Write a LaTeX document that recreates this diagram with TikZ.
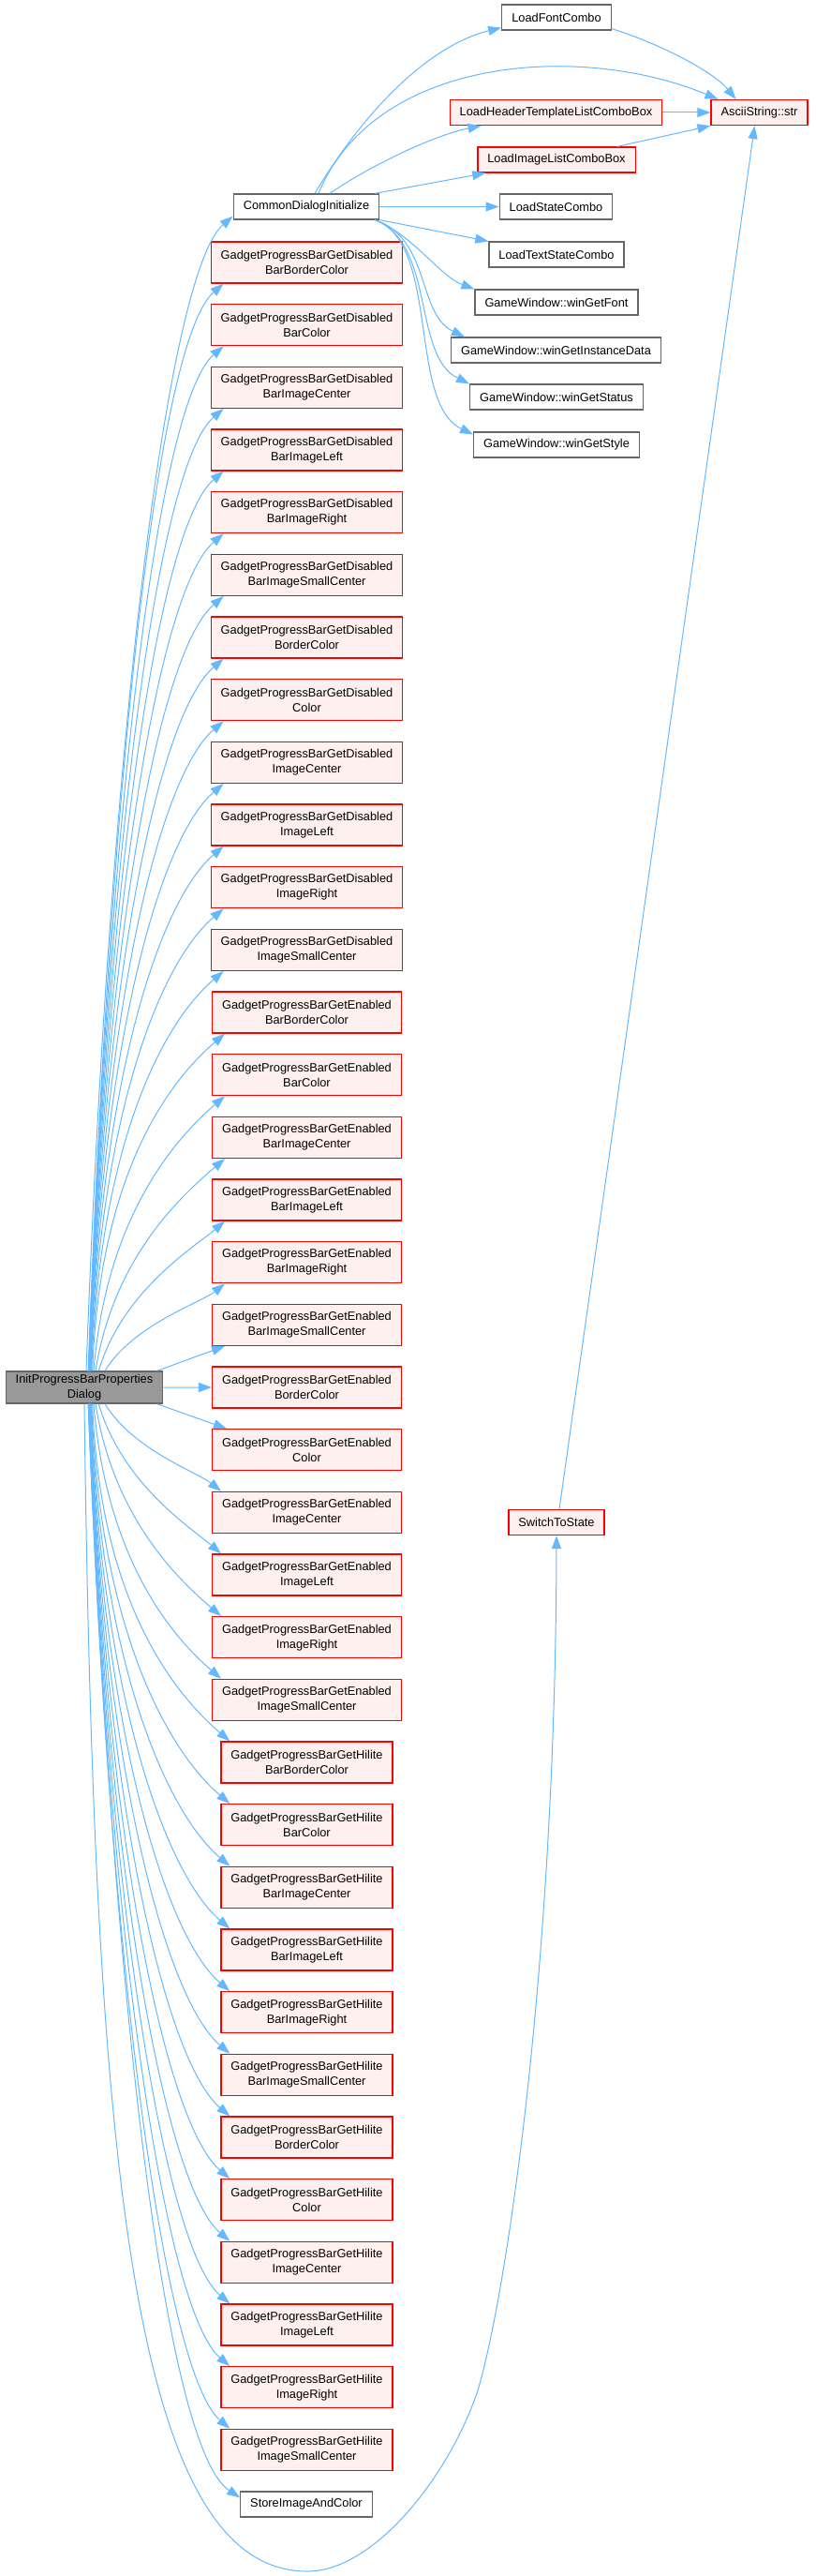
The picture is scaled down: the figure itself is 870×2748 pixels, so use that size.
\documentclass[tikz,border=0pt]{standalone}
\usepackage{fontspec}
\setmainfont{Liberation Sans}
\usetikzlibrary{arrows.meta}
\definecolor{edgeblue}{HTML}{63B8FF}
\definecolor{boxgrey}{HTML}{666666}
\definecolor{rootgrey}{HTML}{999999}
\definecolor{redfill}{HTML}{FFF0F0}
\begin{document}
\begin{tikzpicture}[x=1pt,y=-1pt,
  every node/.style={font=\fontsize{12.8}{16}\selectfont,align=center,inner xsep=10.5pt,inner ysep=3pt},
  box/.style={draw=boxgrey,line width=1.3pt,fill=white,minimum height=27pt},
  redbox/.style={draw=red,line width=1.3pt,fill=redfill,minimum height=27pt},
  pair/.style={redbox,minimum height=44pt},
  call/.style={draw=edgeblue,line width=1pt,-{Triangle[length=14pt,width=10pt]}}]
\useasboundingbox (0,0) rectangle (870,2748);
\node[box,fill=rootgrey] (init) at (90,1480) {InitProgressBarProperties\\Dialog};
\node[box] (cdi) at (327,220.5) {CommonDialogInitialize};
\node[box] (loadfont) at (594,18.5) {LoadFontCombo};
\node[redbox] (asciistr) at (810.5,120) {AsciiString::str};
\node[redbox] (loadheader) at (593.5,120) {LoadHeaderTemplateListComboBox};
\node[redbox] (loadimage) at (594,170.5) {LoadImageListComboBox};
\node[box] (loadstate) at (593.5,220.5) {LoadStateCombo};
\node[box] (loadtext) at (594,271.5) {LoadTextStateCombo};
\node[box] (wgfont) at (594,322.5) {GameWindow::winGetFont};
\node[box] (wginst) at (593.5,373.5) {GameWindow::winGetInstanceData};
\node[box] (wgstatus) at (594,423.5) {GameWindow::winGetStatus};
\node[box] (wgstyle) at (594,474.5) {GameWindow::winGetStyle};
\node[redbox] (switchst) at (594,1624) {SwitchToState};
\node[box] (store) at (327,2671.5) {StoreImageAndColor};
\foreach \grp [count=\g] in {Disabled,Enabled,Hilite}
  \foreach \tail [count=\t] in {BarBorderColor,BarColor,BarImageCenter,BarImageLeft,BarImageRight,BarImageSmallCenter,BorderColor,Color,ImageCenter,ImageLeft,ImageRight,ImageSmallCenter}{
    \pgfmathtruncatemacro\i{(\g-1)*12+\t}
    \node[pair] (b\i) at (327.5,{280+(\i-1)*66.667}) {GadgetProgressBarGet\grp\\\tail};
  }
\foreach \k in {2,...,18}{
  \pgfmathtruncatemacro\i{19-\k}
  \pgfmathsetmacro\dy{\k*66.667-44}
  \pgfmathsetmacro\sx{2+40/\k}
  \pgfmathsetmacro\f{min(1,\dy/350)}
  \pgfmathsetmacro\ax{0.02*\dy+0.3*(146-40/\k)*(1-\f)}
  \pgfmathsetmacro\ay{0.55*\dy}
  \pgfmathsetmacro\cx{max(25,70*\f)}
  \pgfmathsetmacro\cy{max(20,60*\f)}
  \draw[call] ([xshift=\sx pt]init.north) .. controls +(\ax,-\ay) and +(-\cx,\cy) .. ([xshift=14pt]b\i.south west);
}
\foreach \k in {2,...,17}{
  \pgfmathtruncatemacro\i{19+\k}
  \pgfmathsetmacro\dy{\k*66.667-44}
  \pgfmathsetmacro\sx{2+40/\k}
  \pgfmathsetmacro\f{min(1,\dy/350)}
  \pgfmathsetmacro\ax{0.02*\dy+0.3*(146-40/\k)*(1-\f)}
  \pgfmathsetmacro\ay{0.55*\dy}
  \pgfmathsetmacro\cx{max(25,70*\f)}
  \pgfmathsetmacro\cy{max(20,60*\f)}
  \draw[call] ([xshift=\sx pt]init.south) .. controls +(\ax,\ay) and +(-\cx,-\cy) .. ([xshift=10pt]b\i.north west);
}
\draw[call] ([xshift=-7pt]init.north east) -- ([xshift=14pt]b18.south west);
\draw[call] (init) -- (b19);
\draw[call] ([xshift=-7pt]init.south east) -- ([xshift=16pt]b20.north west);
\draw[call] ([xshift=2pt]init.north) .. controls +(25,-675) and +(-70,60) .. ([yshift=4pt]cdi.south west);
\draw[call] ([xshift=4pt]init.south) .. controls +(30,700) and +(-75,-50) .. ([yshift=-7pt]store.north west);
\draw[call] (init.south) .. controls (100,2300) and (140,2743) .. (328,2743) .. controls (400,2743) and (480,2640) .. (510,2550) .. controls (540,2450) and (593,2100) .. (switchst.south);
\draw[call] ([xshift=9pt]cdi.north) .. controls (400,100) and (470,45) .. ([yshift=3pt]loadfont.south west);
\draw[call] ([xshift=13pt]cdi.north) .. controls (400,60) and (620,45) .. ([xshift=8pt]asciistr.north west);
\draw[call] ([xshift=25pt]cdi.north) .. controls (390,180) and (460,145) .. ([xshift=34pt]loadheader.south west);
\draw[call] ([xshift=-5pt]cdi.north east) -- ([xshift=9pt]loadimage.south west);
\draw[call] (cdi) -- (loadstate);
\draw[call] (cdi.south east) -- (loadtext.north west);
\draw[call] ([xshift=-5pt]cdi.south east) .. controls (440,250) and (470,295) .. (wgfont.north west);
\draw[call] ([xshift=-5pt]cdi.south east) .. controls (460,255) and (445,335) .. ([xshift=15pt]wginst.north west);
\draw[call] ([xshift=-5pt]cdi.south east) .. controls (465,260) and (440,380) .. (wgstatus.north west);
\draw[call] ([xshift=-5pt]cdi.south east) .. controls (470,260) and (435,430) .. ([yshift=-3pt]wgstyle.north west);
\draw[call] ([yshift=2pt]loadfont.south east) .. controls (700,45) and (760,75) .. ([xshift=-25pt]asciistr.north);
\draw[call] (loadheader) -- (asciistr);
\draw[call] ([xshift=-20pt]loadimage.north east) -- (asciistr.south west);
\draw[call] ([xshift=3pt]switchst.north) -- ([xshift=-5pt]asciistr.south);
\end{tikzpicture}
\end{document}
